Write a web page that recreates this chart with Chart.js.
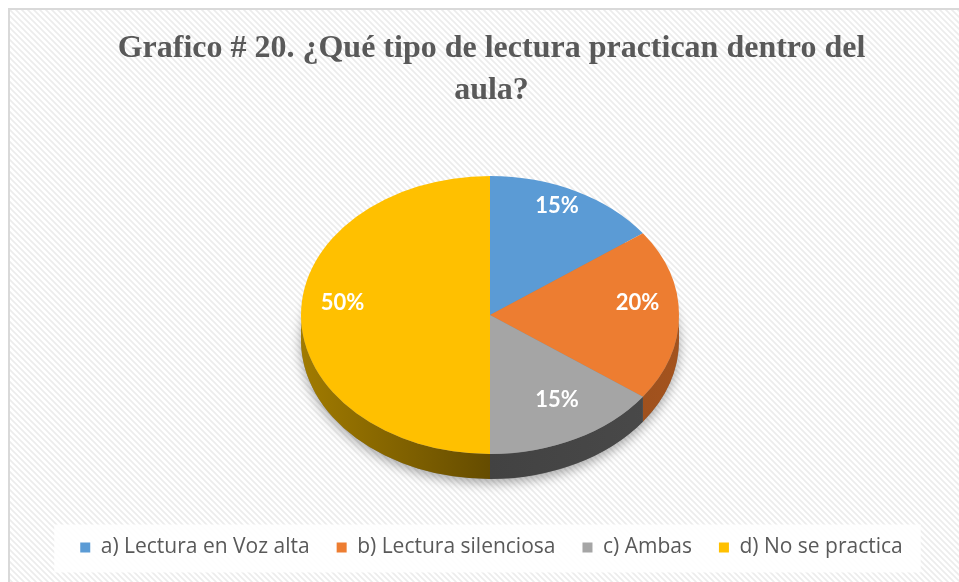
<!DOCTYPE html>
<html>
<head>
<meta charset="utf-8">
<script src="https://cdn.jsdelivr.net/npm/chart.js@4.4.1/dist/chart.umd.min.js"></script>
<style>
html,body{margin:0;padding:0;background:#fff;}
#wrap{position:relative;width:959px;height:582px;}
canvas{display:block;}
</style>
</head>
<body>
<div id="wrap"><canvas id="c" width="959" height="582"></canvas></div>
<script>
const categories = ['a) Lectura en Voz alta', 'b) Lectura silenciosa', 'c) Ambas', 'd) No se practica'];
const values = [15, 20, 15, 50];
const percentLabels = ['15%', '20%', '15%', '50%'];
const titleLines = ['Grafico # 20. ¿Qué tipo de lectura practican dentro del', 'aula?'];
const colors = ['#5b9bd5', '#ed7d31', '#a5a5a5', '#ffc000'];
const sideColors = [['#34628c', '#2a4f72'], ['#a3531e', '#7f3f14'], ['#4a4a4a', '#3a3a3a'], ['#a17b00', '#654c00']];

// ellipse geometry of the 3D pie
const EX = 490, EY = 315, RX = 189, RY = 139, DEPTH = 25;

function makePattern(ctx) {
  const p = document.createElement('canvas');
  p.width = 6; p.height = 6;
  const g = p.getContext('2d');
  g.fillStyle = '#ffffff';
  g.fillRect(0, 0, 6, 6);
  g.strokeStyle = '#ececec';
  g.lineWidth = 1.6;
  g.beginPath();
  g.moveTo(-1, -1); g.lineTo(7, 7);
  g.moveTo(-1, 5); g.lineTo(1, 7);
  g.moveTo(5, -1); g.lineTo(7, 1);
  g.stroke();
  return ctx.createPattern(p, 'repeat');
}

const bgPlugin = {
  id: 'bg',
  beforeDraw(chart) {
    const ctx = chart.ctx;
    ctx.save();
    ctx.fillStyle = '#ffffff';
    ctx.fillRect(0, 0, chart.width, chart.height);
    ctx.fillStyle = makePattern(ctx);
    ctx.fillRect(10, 10, chart.width, chart.height);
    ctx.strokeStyle = '#d9d9d9';
    ctx.lineWidth = 2;
    ctx.strokeRect(9, 9, chart.width + 10, chart.height + 10);
    // legend box
    const lg = chart.legend;
    if (lg && lg.legendHitBoxes && lg.legendHitBoxes.length) {
      const hb = lg.legendHitBoxes;
      const x0 = hb[0].left - 26;
      const x1 = hb[hb.length - 1].left + hb[hb.length - 1].width + 18;
      const cy = hb[0].top + hb[0].height / 2;
      ctx.fillStyle = 'rgba(255,255,255,0.9)';
      ctx.fillRect(x0, cy - 23, x1 - x0, 48);
    }
    ctx.restore();
  }
};

const pie3d = {
  id: 'pie3d',
  beforeDatasetsDraw(chart) {
    const ctx = chart.ctx;
    const meta = chart.getDatasetMeta(0);
    const arcs = meta.data;
    // shadow under the pie
    ctx.save();
    ctx.shadowColor = 'rgba(0,0,0,0.35)';
    ctx.shadowBlur = 12;
    ctx.shadowOffsetY = 4;
    ctx.fillStyle = '#888';
    ctx.beginPath();
    ctx.ellipse(EX, EY + DEPTH, RX, RY, 0, 0, Math.PI * 2);
    ctx.fill();
    ctx.restore();
    // side walls
    arcs.forEach((el, i) => {
      const p = el.getProps(['startAngle', 'endAngle'], true);
      const a0 = Math.max(p.startAngle, 0), a1 = Math.min(p.endAngle, Math.PI);
      if (a1 <= a0) return;
      ctx.save();
      const grad = ctx.createLinearGradient(EX - RX, 0, EX + RX, 0);
      if (i === 3) {
        grad.addColorStop(0, sideColors[i][0]);
        grad.addColorStop(0.5, sideColors[i][1]);
        grad.addColorStop(1, sideColors[i][1]);
      } else {
        grad.addColorStop(0, sideColors[i][1]);
        grad.addColorStop(1, sideColors[i][0]);
      }
      ctx.fillStyle = grad;
      ctx.beginPath();
      ctx.ellipse(EX, EY, RX, RY, 0, a0, a1, false);
      ctx.lineTo(EX + RX * Math.cos(a1), EY + RY * Math.sin(a1) + DEPTH);
      ctx.ellipse(EX, EY + DEPTH, RX, RY, 0, a1, a0, true);
      ctx.closePath();
      ctx.fill();
      ctx.restore();
    });
    // transform chart.js circle into the ellipse top face
    const el0 = arcs[0];
    const cx0 = el0.x, cy0 = el0.y, R = el0.outerRadius;
    ctx.save();
    ctx.translate(EX, EY);
    ctx.scale(RX / R, RY / R);
    ctx.translate(-cx0, -cy0);
  },
  afterDatasetsDraw(chart) {
    chart.ctx.restore();
  },
  afterDraw(chart) {
    const ctx = chart.ctx;
    const meta = chart.getDatasetMeta(0);
    ctx.save();
    ctx.fillStyle = '#ffffff';
    ctx.font = 'bold 22px Lato';
    ctx.textAlign = 'center';
    ctx.textBaseline = 'middle';
    meta.data.forEach((el, i) => {
      const p = el.getProps(['startAngle', 'endAngle'], true);
      const mid = (p.startAngle + p.endAngle) / 2;
      const f = 0.78;
      const x = EX + f * RX * Math.cos(mid);
      const y = EY + f * RY * Math.sin(mid) - 12;
      ctx.fillText(percentLabels[i], x, y);
    });
    ctx.restore();
  }
};

new Chart(document.getElementById('c'), {
  type: 'pie',
  data: {
    labels: categories,
    datasets: [{
      data: values,
      backgroundColor: colors,
      borderWidth: 0
    }]
  },
  options: {
    responsive: false,
    animation: false,
    layout: { padding: { left: 24, right: 0, top: 0, bottom: 14 } },
    plugins: {
      title: {
        display: true,
        text: titleLines,
        color: '#595959',
        font: { family: 'Liberation Serif', size: 32, weight: 'bold', lineHeight: 1.3 },
        padding: { top: 28, bottom: 10 }
      },
      legend: {
        position: 'bottom',
        labels: {
          boxWidth: 10,
          boxHeight: 10,
          padding: 27,
          color: '#595959',
          font: { family: 'Open Sans', size: 21 }
        }
      },
      tooltip: { enabled: false }
    }
  },
  plugins: [bgPlugin, pie3d]
});
</script>
</body>
</html>
